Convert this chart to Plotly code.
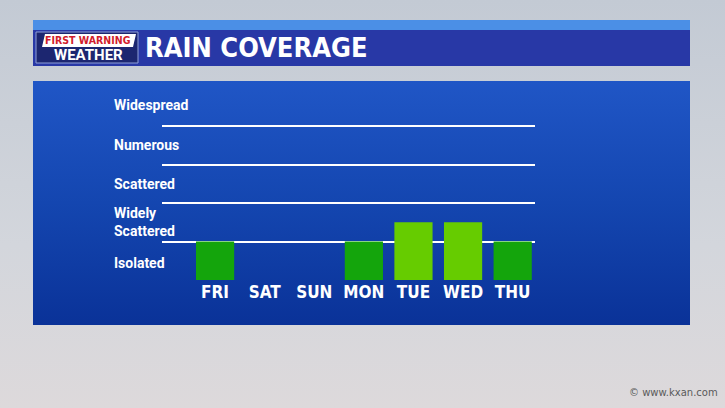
import plotly.graph_objects as go

# chart data
days = ['FRI', 'SAT', 'SUN', 'MON', 'TUE', 'WED', 'THU']
coverage = [1.0, 0.0, 0.0, 1.0, 1.5, 1.5, 1.0]
level_names = ['Isolated', 'Widely<br>Scattered', 'Scattered', 'Numerous', 'Widespread']
level_pos = [0.45, 1.5, 2.5, 3.5, 4.55]
grid_levels = [0, 1, 2, 3, 4]

W, H = 725, 408
narrow = 'DejaVu Sans Condensed'


def bar_color(v):
    return '#66cc00' if v > 1.2 else '#14a50c'


px = lambda x: x / W
py = lambda y: 1 - y / H

fig = go.Figure()

# backdrop (pixel subplot x/y)
fig.add_trace(go.Scatter(
    x=[0, W, W, 0, 0], y=[0, 0, H, H, 0], mode='lines', line_width=0,
    fill='toself', fillgradient=dict(type='vertical', start=0, stop=H,
                                     colorscale=[[0, '#c3cad4'], [0.6, '#d3d6dc'], [1, '#ddd9db']]),
    hoverinfo='skip', showlegend=False))
fig.add_trace(go.Scatter(
    x=[33, 690, 690, 33, 33], y=[81, 81, 325, 325, 81], mode='lines', line_width=0,
    fill='toself', fillgradient=dict(type='vertical', start=81, stop=325,
                                     colorscale=[[0, '#2056c6'], [0.5, '#1446b0'], [1, '#0a3298']]),
    hoverinfo='skip', showlegend=False))

# bars
fig.add_trace(go.Bar(
    x=days, y=coverage, width=0.77,
    marker=dict(color=[bar_color(v) for v in coverage], line_width=0),
    xaxis='x2', yaxis='y2', hoverinfo='skip', showlegend=False))

fig.update_layout(
    width=W, height=H, margin=dict(l=0, r=0, t=0, b=0),
    paper_bgcolor='#ccd1d8', plot_bgcolor='rgba(0,0,0,0)',
    xaxis=dict(domain=[0, 1], range=[0, W], visible=False, fixedrange=True),
    yaxis=dict(domain=[0, 1], range=[H, 0], visible=False, fixedrange=True),
    xaxis2=dict(domain=[162 / W, 535 / W], range=[-1.07, 6.45], anchor='y2',
                showgrid=False, zeroline=False, showline=False, fixedrange=True,
                ticks='', tickfont=dict(family=narrow, size=17, color='white', weight='bold')),
    yaxis2=dict(domain=[1 - 280 / H, 1 - 87.5 / H], range=[0, 5], anchor='x2', fixedrange=True,
                tickvals=grid_levels, showticklabels=False, showgrid=True,
                gridcolor='white', gridwidth=2, zeroline=False),
)

# header bar
fig.add_shape(type='rect', xref='paper', yref='paper', x0=px(33), x1=px(690),
              y0=py(30), y1=py(20), fillcolor='#4b8fe6', line_width=0)
fig.add_shape(type='rect', xref='paper', yref='paper', x0=px(33), x1=px(690),
              y0=py(66), y1=py(30), fillcolor='#2838a6', line_width=0)
# logo
fig.add_shape(type='rect', xref='paper', yref='paper', x0=px(36), x1=px(138),
              y0=py(63), y1=py(32), fillcolor='#1c2670',
              line=dict(color='#8fa0d8', width=1))
fig.add_shape(type='path', xref='paper', yref='paper',
              path=f'M {px(42)},{py(47)} L {px(45)},{py(34)} L {px(136)},{py(34)} L {px(133)},{py(47)} Z',
              fillcolor='white', line_width=0)
fig.add_annotation(xref='paper', yref='paper', x=px(88), y=py(40.5), xanchor='center', yanchor='middle',
                   text='FIRST WARNING', showarrow=False,
                   font=dict(family=narrow, size=10.5, color='#d01c2c', weight='bold'))
fig.add_annotation(xref='paper', yref='paper', x=px(88), y=py(55), xanchor='center', yanchor='middle',
                   text='WEATHER', showarrow=False,
                   font=dict(family='Roboto', size=15, color='white', weight='bold'))
fig.add_annotation(xref='paper', yref='paper', x=px(143), y=py(47), xanchor='left', yanchor='middle',
                   text='RAIN COVERAGE', showarrow=False,
                   font=dict(family=narrow, size=27, color='white', weight='bold'))

# level labels
for name, pos in zip(level_names, level_pos):
    fig.add_annotation(xref='paper', yref='y2', x=px(112), y=pos, xanchor='left', yanchor='middle',
                       align='left', text=name, showarrow=False,
                       font=dict(family='Roboto', size=14, color='white', weight='bold'))

fig.add_annotation(xref='paper', yref='paper', x=px(720), y=py(392), xanchor='right', yanchor='middle',
                   text='© www.kxan.com', showarrow=False,
                   font=dict(family='DejaVu Sans', size=10, color='#5a5a5a'))

fig.write_html('out.html', config={'displayModeBar': False},
               post_script="document.body.style.margin='0px';")
